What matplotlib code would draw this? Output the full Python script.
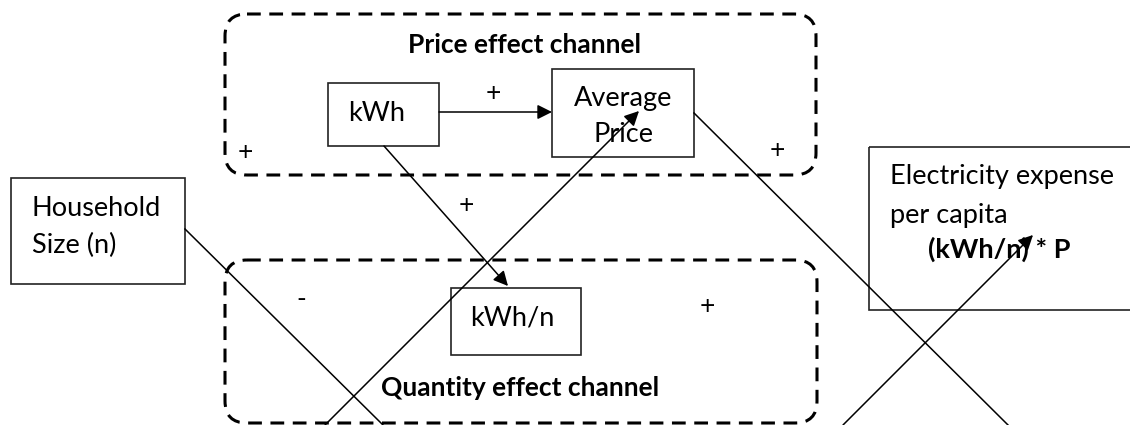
import matplotlib
matplotlib.use("Agg")
import matplotlib.pyplot as plt
from matplotlib.patches import Rectangle, FancyBboxPatch

plt.rcParams['font.family'] = ['Lato', 'DejaVu Sans']

# plain boxes: x0, y0, x1, y1 (pixels, y down)
box_kwh = [328, 83, 439, 146]
box_price = [552, 69, 694, 157]
box_house = [11, 178, 185, 284]
box_expense = [869, 147, 1140, 310]
box_kwhn = [451, 288, 581, 355]
plain_boxes = [box_kwh, box_price, box_house, box_expense, box_kwhn]

# dashed channel boxes
channel_top = [225, 14, 816, 175]
channel_bottom = [225, 260, 817, 423]
channel_titles = ["Price effect channel", "Quantity effect channel"]
channel_title_xy = [(525, 45), (520, 388)]

# node text lines
node_lines = ["kWh", "Average", "Price", "Household", "Size (n)",
              "Electricity expense", "per capita", "kWh/n"]
node_line_xy = [(348, 113), (623, 98), (623, 134), (32, 208), (32, 245),
                (890, 176), (890, 215), (470, 318)]
node_line_ha = ["left", "center", "center", "left", "left", "left", "left", "left"]
formula_text = "(kWh/n) * P"
formula_xy = (928, 249)

# signs
signs = ["+", "+", "+", "+", "-", "+"]
sign_xy = [(493, 93), (245, 152), (777, 151), (466, 205), (301, 299), (707, 307)]

# connector lines: start, end, arrow?
links = [
    ((439, 112), (552, 112), True),
    ((384, 146), (508, 286), True),
    ((325, 425), (639, 111), True),
    ((185, 229), (383, 425), False),
    ((694, 113), (1008, 425), False),
    ((843, 425), (1033, 235), True),
]

fig = plt.figure(figsize=(11.3, 4.25), dpi=100)
ax = fig.add_axes([0, 0, 1, 1])
ax.set_xlim(0, 1130)
ax.set_ylim(425, 0)
ax.axis('off')

for b in plain_boxes:
    ax.add_patch(Rectangle((b[0], b[1]), b[2] - b[0], b[3] - b[1],
                           fill=False, ec='#222222', lw=1.2))

for b in [channel_top, channel_bottom]:
    ax.add_patch(FancyBboxPatch((b[0], b[1]), b[2] - b[0], b[3] - b[1],
                                boxstyle="round,pad=0,rounding_size=22",
                                fill=False, ec='black', lw=2.2,
                                linestyle=(0, (4.5, 2.8))))

for t, (x, y) in zip(channel_titles, channel_title_xy):
    ax.text(x, y, t, ha='center', va='center', fontsize=19, fontweight='bold')

for t, (x, y), ha in zip(node_lines, node_line_xy, node_line_ha):
    ax.text(x, y, t, ha=ha, va='center', fontsize=19.5)
ax.text(formula_xy[0], formula_xy[1], formula_text, ha='left', va='center',
        fontsize=19.5, fontweight='bold')

for s, (x, y) in zip(signs, sign_xy):
    ax.text(x, y, s, ha='center', va='center', fontsize=19)

for p0, p1, arrow in links:
    if arrow:
        ax.annotate("", xy=p1, xytext=p0,
                    arrowprops=dict(arrowstyle='-|>', color='black', lw=1.1,
                                    mutation_scale=22, shrinkA=0, shrinkB=0))
    else:
        ax.plot([p0[0], p1[0]], [p0[1], p1[1]], color='black', lw=1.1)

fig.savefig("out.png", dpi=100)
